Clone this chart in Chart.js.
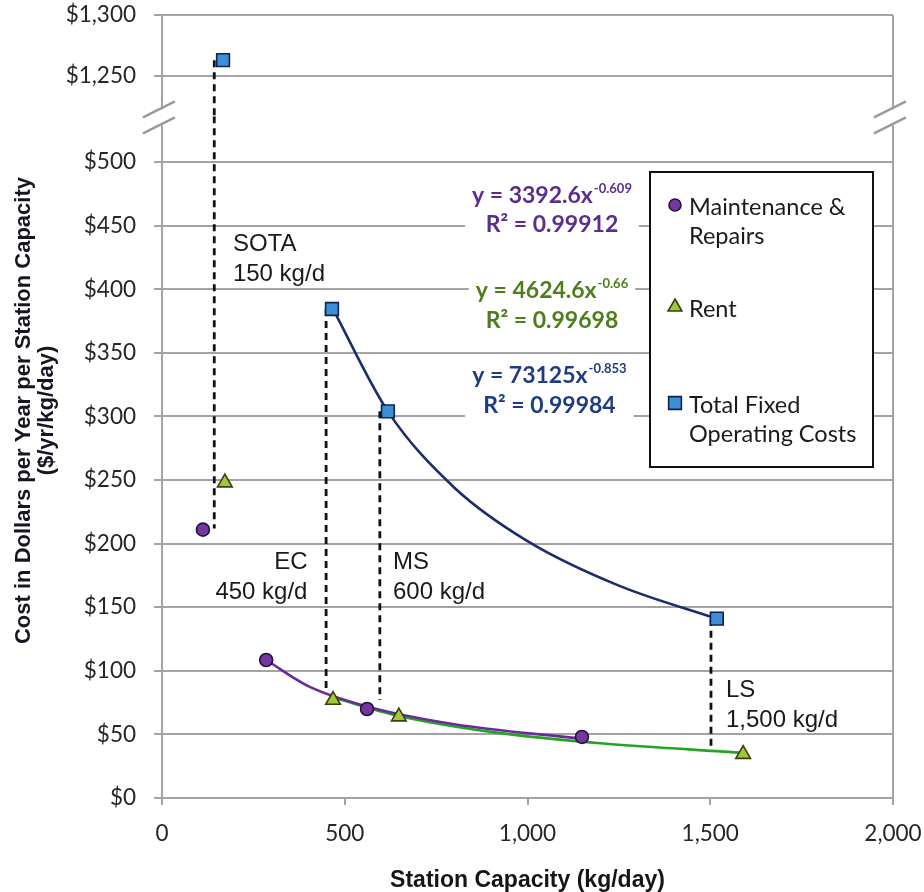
<!DOCTYPE html>
<html>
<head>
<meta charset="utf-8">
<script src="https://cdn.jsdelivr.net/npm/chart.js@4/dist/chart.umd.min.js"></script>
<style>
html,body{margin:0;padding:0;background:#fff;overflow:hidden;}
#wrap{width:924px;height:892px;position:relative;}
</style>
</head>
<body>
<div id="wrap"><canvas id="c" width="924" height="892"></canvas></div>
<script>
// ---------- DATA ----------
const seriesNames = ['Maintenance & Repairs', 'Rent', 'Total Fixed Operating Costs'];

const maintCapacity = [112, 285, 561, 1149];
const maintCost     = [211, 108.5, 70, 48];
const rentCapacity  = [172, 468, 648, 1590];
const rentCost      = [248, 77, 64, 34.5];
const totalCapacity = [167, 465, 618, 1518];
const totalCost     = [1263, 384.5, 304, 141];

// power-law trend lines
const maintFitX = [285, 400, 561, 800, 1149];
const maintFitY = [108.5, 88, 72, 58, 46.5];
const rentFitX  = [468, 648, 900, 1200, 1590];
const rentFitY  = [79, 64.5, 52, 43, 35.5];
const totalFitX = [465, 618, 800, 1000, 1250, 1518];
const totalFitY = [386, 304, 244, 202, 167, 141];

const fitCoef = ['3392.6', '4624.6', '73125'];
const fitExp  = ['-0.609', '-0.66', '-0.853'];
const fitR2   = ['0.99912', '0.99698', '0.99984'];

// station reference (dashed) lines
const stationNames  = ['SOTA', 'EC', 'MS', 'LS'];
const stationSizes  = ['150 kg/d', '450 kg/d', '600 kg/d', '1,500 kg/d'];
const stationX      = [143, 449, 596, 1502];
const stationTop    = [1263, 384.5, 304, 141];
const stationBottom = [212, 82, 77, 38];

// axes
const xTicks     = [0, 500, 1000, 1500, 2000];
const yTicksLow  = [0, 50, 100, 150, 200, 250, 300, 350, 400, 450, 500];
const yTicksHigh = [1250, 1300];
const xRange     = [0, 2000];
const yLowRange  = [0, 536];
const yHighRange = [1217, 1300];

// ---------- STYLE ----------
const gridColor = '#a3a3a3';
const tickColor = '#262626';
const tickFont  = {family: 'Lato', size: 22.5};
const seriesStyle = [
  {point: 'circle',   radius: 6.5, fill: '#7338a0', edge: '#24103c', line: '#6a2b98', eq: '#5b2d91'},
  {point: 'triangle', radius: 8.5, fill: '#a3c63a', edge: '#35420e', line: '#25a325', eq: '#4e7d1c'},
  {point: 'rect',     radius: 9,   fill: '#3d8fd8', edge: '#0f2350', line: '#1c2d6b', eq: '#1f3c82'}
];
const eqAnchor = [ {x: 1067, y1: 468, y2: 445}, {x: 1067, y1: 393, y2: 369.6}, {x: 1060, y1: 326, y2: 302.8} ];
const stationLabelPos = [
  {x: 194, y: 430, align: 'left'},
  {x: 398, y: 180, align: 'right'},
  {x: 632, y: 180, align: 'left'},
  {x: 1543, y: 79.4, align: 'left'}
];

const pts = (xs, ys) => xs.map((v, i) => ({x: v, y: ys[i]}));

// ---------- DATASETS ----------
const datasets = [];
const seriesX = [maintCapacity, rentCapacity, totalCapacity];
const seriesY = [maintCost, rentCost, totalCost];
for (let s = 0; s < 3; s++) {
  const st = seriesStyle[s];
  const low = [], high = [];
  seriesX[s].forEach((v, i) => {
    const val = seriesY[s][i];
    (val > yLowRange[1] ? high : low).push({x: v, y: val});
  });
  const base = {label: seriesNames[s], showLine: false, pointStyle: st.point, pointRadius: st.radius,
    pointBackgroundColor: st.fill, pointBorderColor: st.edge, pointBorderWidth: 1.6, order: 0,
    backgroundColor: st.fill, borderColor: st.edge};
  datasets.push(Object.assign({}, base, {data: low, yAxisID: 'y'}));
  if (high.length) datasets.push(Object.assign({}, base, {data: high, yAxisID: 'yTop'}));
}
const fits = [[maintFitX, maintFitY], [rentFitX, rentFitY], [totalFitX, totalFitY]];
fits.forEach((f, s) => {
  datasets.push({label: seriesNames[s] + ' fit', data: pts(f[0], f[1]), showLine: true, pointRadius: 0,
    borderColor: seriesStyle[s].line, borderWidth: 2.6, cubicInterpolationMode: 'monotone',
    yAxisID: 'y', order: 1});
});
stationX.forEach((xv, i) => {
  const dash = {showLine: true, pointRadius: 0, borderColor: '#111', borderWidth: 2.8,
    borderDash: [7, 5], order: 2, label: stationNames[i] + ' guide'};
  if (stationTop[i] > yLowRange[1]) {
    datasets.push(Object.assign({}, dash, {yAxisID: 'yTop', data: [{x: xv, y: stationTop[i]}, {x: xv, y: yHighRange[0]}]}));
    datasets.push(Object.assign({}, dash, {yAxisID: 'y', data: [{x: xv, y: yLowRange[1]}, {x: xv, y: stationBottom[i]}]}));
  } else {
    datasets.push(Object.assign({}, dash, {yAxisID: 'y', data: [{x: xv, y: stationTop[i]}, {x: xv, y: stationBottom[i]}]}));
  }
});

// ---------- DECORATION PLUGIN ----------
function wrapText(ctx, text, maxW) {
  const words = text.split(' '); const lines = []; let cur = '';
  for (const w of words) {
    const t = cur ? cur + ' ' + w : w;
    if (ctx.measureText(t).width > maxW && cur) { lines.push(cur); cur = w; } else cur = t;
  }
  if (cur) lines.push(cur);
  return lines;
}
function drawMarker(ctx, style, x, y, r) {
  ctx.save();
  ctx.fillStyle = style.fill; ctx.strokeStyle = style.edge; ctx.lineWidth = 1.6;
  ctx.beginPath();
  if (style.point === 'circle') ctx.arc(x, y, r, 0, Math.PI * 2);
  else if (style.point === 'triangle') {
    ctx.moveTo(x, y - r); ctx.lineTo(x + r * 0.866, y + r * 0.5); ctx.lineTo(x - r * 0.866, y + r * 0.5); ctx.closePath();
  } else { const h = r * 0.7071; ctx.rect(x - h, y - h, 2 * h, 2 * h); }
  ctx.fill(); ctx.stroke();
  ctx.restore();
}

const decor = {
  id: 'decor',
  beforeDatasetsDraw(chart) {
    const {ctx, chartArea: a, scales} = chart;
    const x = scales.x, y = scales.y;
    ctx.save();
    // right border of plot
    ctx.strokeStyle = gridColor; ctx.lineWidth = 2;
    ctx.beginPath(); ctx.moveTo(a.right, a.top); ctx.lineTo(a.right, a.bottom); ctx.stroke();
    // trend-line equations
    const big = 'bold 23px Lato', small = 'bold 13px Lato';
    eqAnchor.forEach((p, s) => {
      const cx = x.getPixelForValue(p.x);
      const b1 = y.getPixelForValue(p.y1), b2 = y.getPixelForValue(p.y2);
      const main = 'y = ' + fitCoef[s] + 'x';
      ctx.font = big; const w1 = ctx.measureText(main).width;
      ctx.font = small; const we = ctx.measureText(fitExp[s]).width;
      const r2 = 'R\u00b2 = ' + fitR2[s];
      ctx.font = big; const w2 = ctx.measureText(r2).width;
      const wTot = w1 + we + 1;
      const boxW = Math.max(wTot, w2) + 14;
      ctx.fillStyle = '#fff';
      ctx.fillRect(cx - boxW / 2, b1 - 23, boxW, b2 - b1 + 31);
      ctx.fillStyle = seriesStyle[s].eq; ctx.textBaseline = 'alphabetic'; ctx.textAlign = 'left';
      ctx.font = big; ctx.fillText(main, cx - wTot / 2, b1);
      ctx.font = small; ctx.fillText(fitExp[s], cx - wTot / 2 + w1 + 1, b1 - 10);
      ctx.font = big; ctx.textAlign = 'center'; ctx.fillText(r2, cx, b2);
    });
    ctx.restore();
  },
  afterDatasetsDraw(chart) {
    const {ctx, chartArea: a, scales} = chart;
    const x = scales.x, y = scales.y;
    ctx.save();
    // station labels
    ctx.font = '24px "Liberation Sans", Arial, sans-serif';
    ctx.fillStyle = '#1a1a1a'; ctx.textBaseline = 'alphabetic';
    stationLabelPos.forEach((p, i) => {
      const px = x.getPixelForValue(p.x), py = y.getPixelForValue(p.y);
      ctx.textAlign = p.align;
      ctx.fillText(stationNames[i], px, py);
      ctx.fillText(stationSizes[i], px, py + 30);
    });
    // axis breaks
    const by = y.top + 1;
    [a.left, a.right].forEach(bx => {
      ctx.fillStyle = '#fff';
      ctx.fillRect(bx - 3, by - 8, 6, 16);
      ctx.strokeStyle = '#9a9a9a'; ctx.lineWidth = 2.4;
      [-8, 8].forEach(off => {
        const cx = bx - 3, cy = by + off;
        ctx.beginPath(); ctx.moveTo(cx - 16, cy + 8); ctx.lineTo(cx + 16, cy - 8); ctx.stroke();
      });
    });
    // legend box
    const L = {x: a.right - 243, y: a.top + 157, w: 223, h: 295};
    ctx.fillStyle = '#fff'; ctx.fillRect(L.x, L.y, L.w, L.h);
    ctx.strokeStyle = '#111'; ctx.lineWidth = 2; ctx.strokeRect(L.x, L.y, L.w, L.h);
    const itemY = [33, 135, 231];
    ctx.font = '23.5px Lato'; ctx.fillStyle = '#1a1a1a'; ctx.textAlign = 'left';
    seriesNames.forEach((name, s) => {
      const my = L.y + itemY[s];
      drawMarker(ctx, seriesStyle[s], L.x + 25, my, s === 1 ? 8 : (s === 0 ? 6 : 9));
      const lines = wrapText(ctx, name, 180);
      lines.forEach((ln, k) => ctx.fillText(ln, L.x + 39, my + 10 + k * 29));
    });
    // y-axis title (spans both stacked axes)
    const cy = (a.top + a.bottom) / 2 + 4;
    ctx.translate(24, cy); ctx.rotate(-Math.PI / 2);
    ctx.font = 'bold 22px "Liberation Sans", Arial, sans-serif';
    ctx.fillStyle = '#161622'; ctx.textAlign = 'center'; ctx.textBaseline = 'middle';
    ctx.fillText('Cost in Dollars per Year per Station Capacity', 0, 0);
    ctx.fillText('($/yr/kg/day)', 0, 23);
    ctx.restore();
  }
};

const money = v => '$' + Number(v).toLocaleString('en-US');
const fitY = s => { s.width = 162; s.paddingTop = 0; s.paddingBottom = 0; };

new Chart(document.getElementById('c'), {
  type: 'scatter',
  data: {datasets},
  plugins: [decor],
  options: {
    responsive: false,
    animation: false,
    layout: {padding: {top: 15, right: 31, left: 0, bottom: 0}},
    plugins: {legend: {display: false}, tooltip: {enabled: false}},
    scales: {
      x: {
        type: 'linear', position: 'bottom', min: xRange[0], max: xRange[1],
        afterBuildTicks: s => { s.ticks = xTicks.map(v => ({value: v})); },
        grid: {drawOnChartArea: false, color: gridColor, lineWidth: 2, tickLength: 7},
        border: {color: gridColor, width: 2},
        ticks: {font: tickFont, color: tickColor, padding: 15, maxRotation: 0, callback: v => Number(v).toLocaleString('en-US')},
        title: {display: true, text: 'Station Capacity (kg/day)', color: '#151515',
          font: {family: '"Liberation Sans", Arial, sans-serif', weight: 'bold', size: 23, lineHeight: 1}, padding: {top: 0, bottom: 0}},
        afterFit: s => { s.height = 94; s.paddingLeft = 0; s.paddingRight = 0; }
      },
      y: {
        type: 'linear', position: 'left', stack: 'cost', stackWeight: 681.6,
        min: yLowRange[0], max: yLowRange[1],
        afterBuildTicks: s => { s.ticks = yTicksLow.map(v => ({value: v})); },
        grid: {color: gridColor, lineWidth: 2, tickLength: 8},
        border: {color: gridColor, width: 2},
        ticks: {font: tickFont, color: tickColor, padding: 18, callback: money},
        afterFit: fitY
      },
      yTop: {
        type: 'linear', position: 'left', stack: 'cost', stackWeight: 101.3,
        min: yHighRange[0], max: yHighRange[1],
        afterBuildTicks: s => { s.ticks = yTicksHigh.map(v => ({value: v})); },
        grid: {color: gridColor, lineWidth: 2, tickLength: 8},
        border: {color: gridColor, width: 2},
        ticks: {font: tickFont, color: tickColor, padding: 18, callback: money},
        afterFit: fitY
      }
    }
  }
});
</script>
</body>
</html>
